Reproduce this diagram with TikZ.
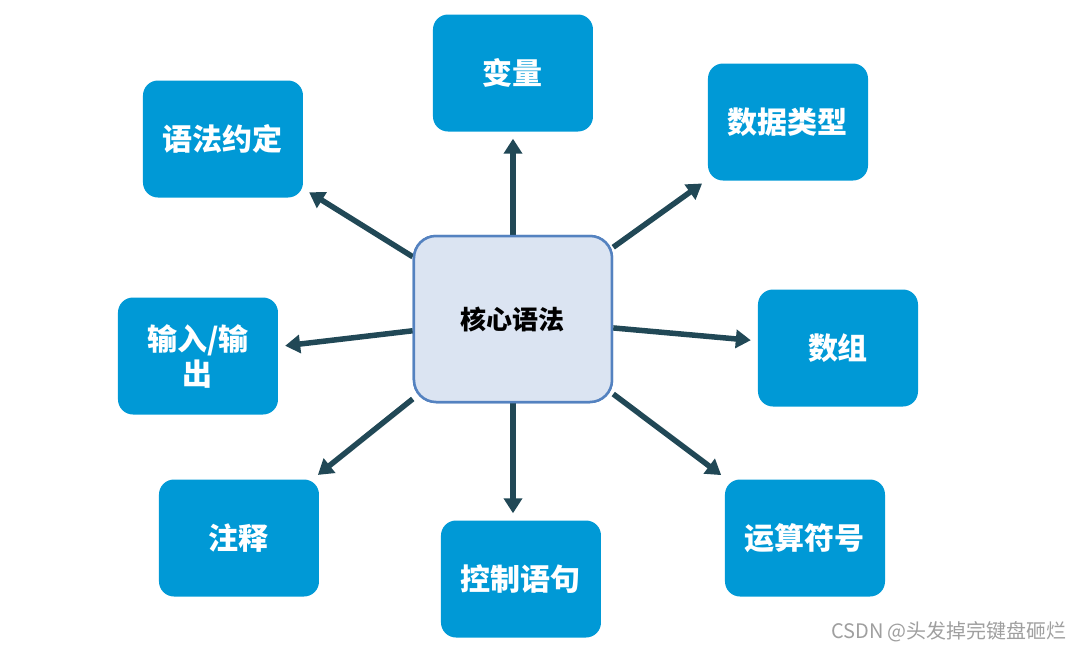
\documentclass[tikz,border=0pt]{standalone}
\usepackage{fontspec}
\newfontfamily\cjk{Noto Sans CJK SC}
\usepackage{tikz}
\usetikzlibrary{arrows.meta,positioning}
\definecolor{boxblue}{RGB}{0, 153, 214}
\definecolor{corefill}{RGB}{219, 228, 242}
\definecolor{coreline}{RGB}{84, 130, 192}
\definecolor{arrowdark}{RGB}{33, 72, 86}
\tikzstyle{topic} = [rectangle, rounded corners=15pt, fill=boxblue, text=white, align=center, font=\cjk\bfseries\fontsize{30}{35}\selectfont, minimum width=160pt, minimum height=117pt, inner sep=0pt]
\tikzstyle{core} = [rectangle, rounded corners=22pt, draw=coreline, line width=2.5pt, fill=corefill, text=black, font=\cjk\bfseries\fontsize{26}{30}\selectfont, minimum width=198pt, minimum height=166pt]
\tikzstyle{tedge} = [draw=arrowdark, line width=5.5pt, -{Triangle[length=15pt,width=18pt]}, shorten >=7pt]

\begin{document}
\begin{tikzpicture}[on grid]
\useasboundingbox (-513pt,319pt) rectangle (567pt,-330pt);

% centre
\node[core] (hxyf) {核心语法};

% topics around it
\node[topic, above=246pt of hxyf] (bl) {变量};
\node[topic, above right=197pt and 275pt of hxyf] (sjlx) {数据类型};
\node[topic, above left=180pt and 290pt of hxyf] (yfyd) {语法约定};
\node[topic, below left=37pt and 315pt of hxyf] (srsc) {输入/输\\出};
\node[topic, below right=29pt and 325pt of hxyf] (sz) {数组};
\node[topic, below left=219pt and 274pt of hxyf] (zs) {注释};
\node[topic, below right=260pt and 8pt of hxyf] (kzyj) {控制语句};
\node[topic, below right=219pt and 292pt of hxyf] (ysfh) {运算符号};

% watermark
\node[text=gray!75, font=\cjk\fontsize{20}{24}\selectfont] (wm) at (436pt,-313pt) {CSDN @头发掉完键盘砸烂};

%edges
\path[tedge] (hxyf) -- (bl);
\path[tedge] (hxyf) -- (sjlx);
\path[tedge] (hxyf) -- (yfyd);
\path[tedge] (hxyf) -- (srsc);
\path[tedge] (hxyf) -- (sz);
\path[tedge] (hxyf) -- (zs);
\path[tedge] (hxyf) -- (hxyf |- kzyj.north);
\path[tedge] (hxyf) -- (ysfh);

% centre box again on top of the arrow tails
\node[core] at (hxyf) {核心语法};

\end{tikzpicture}
\end{document}
